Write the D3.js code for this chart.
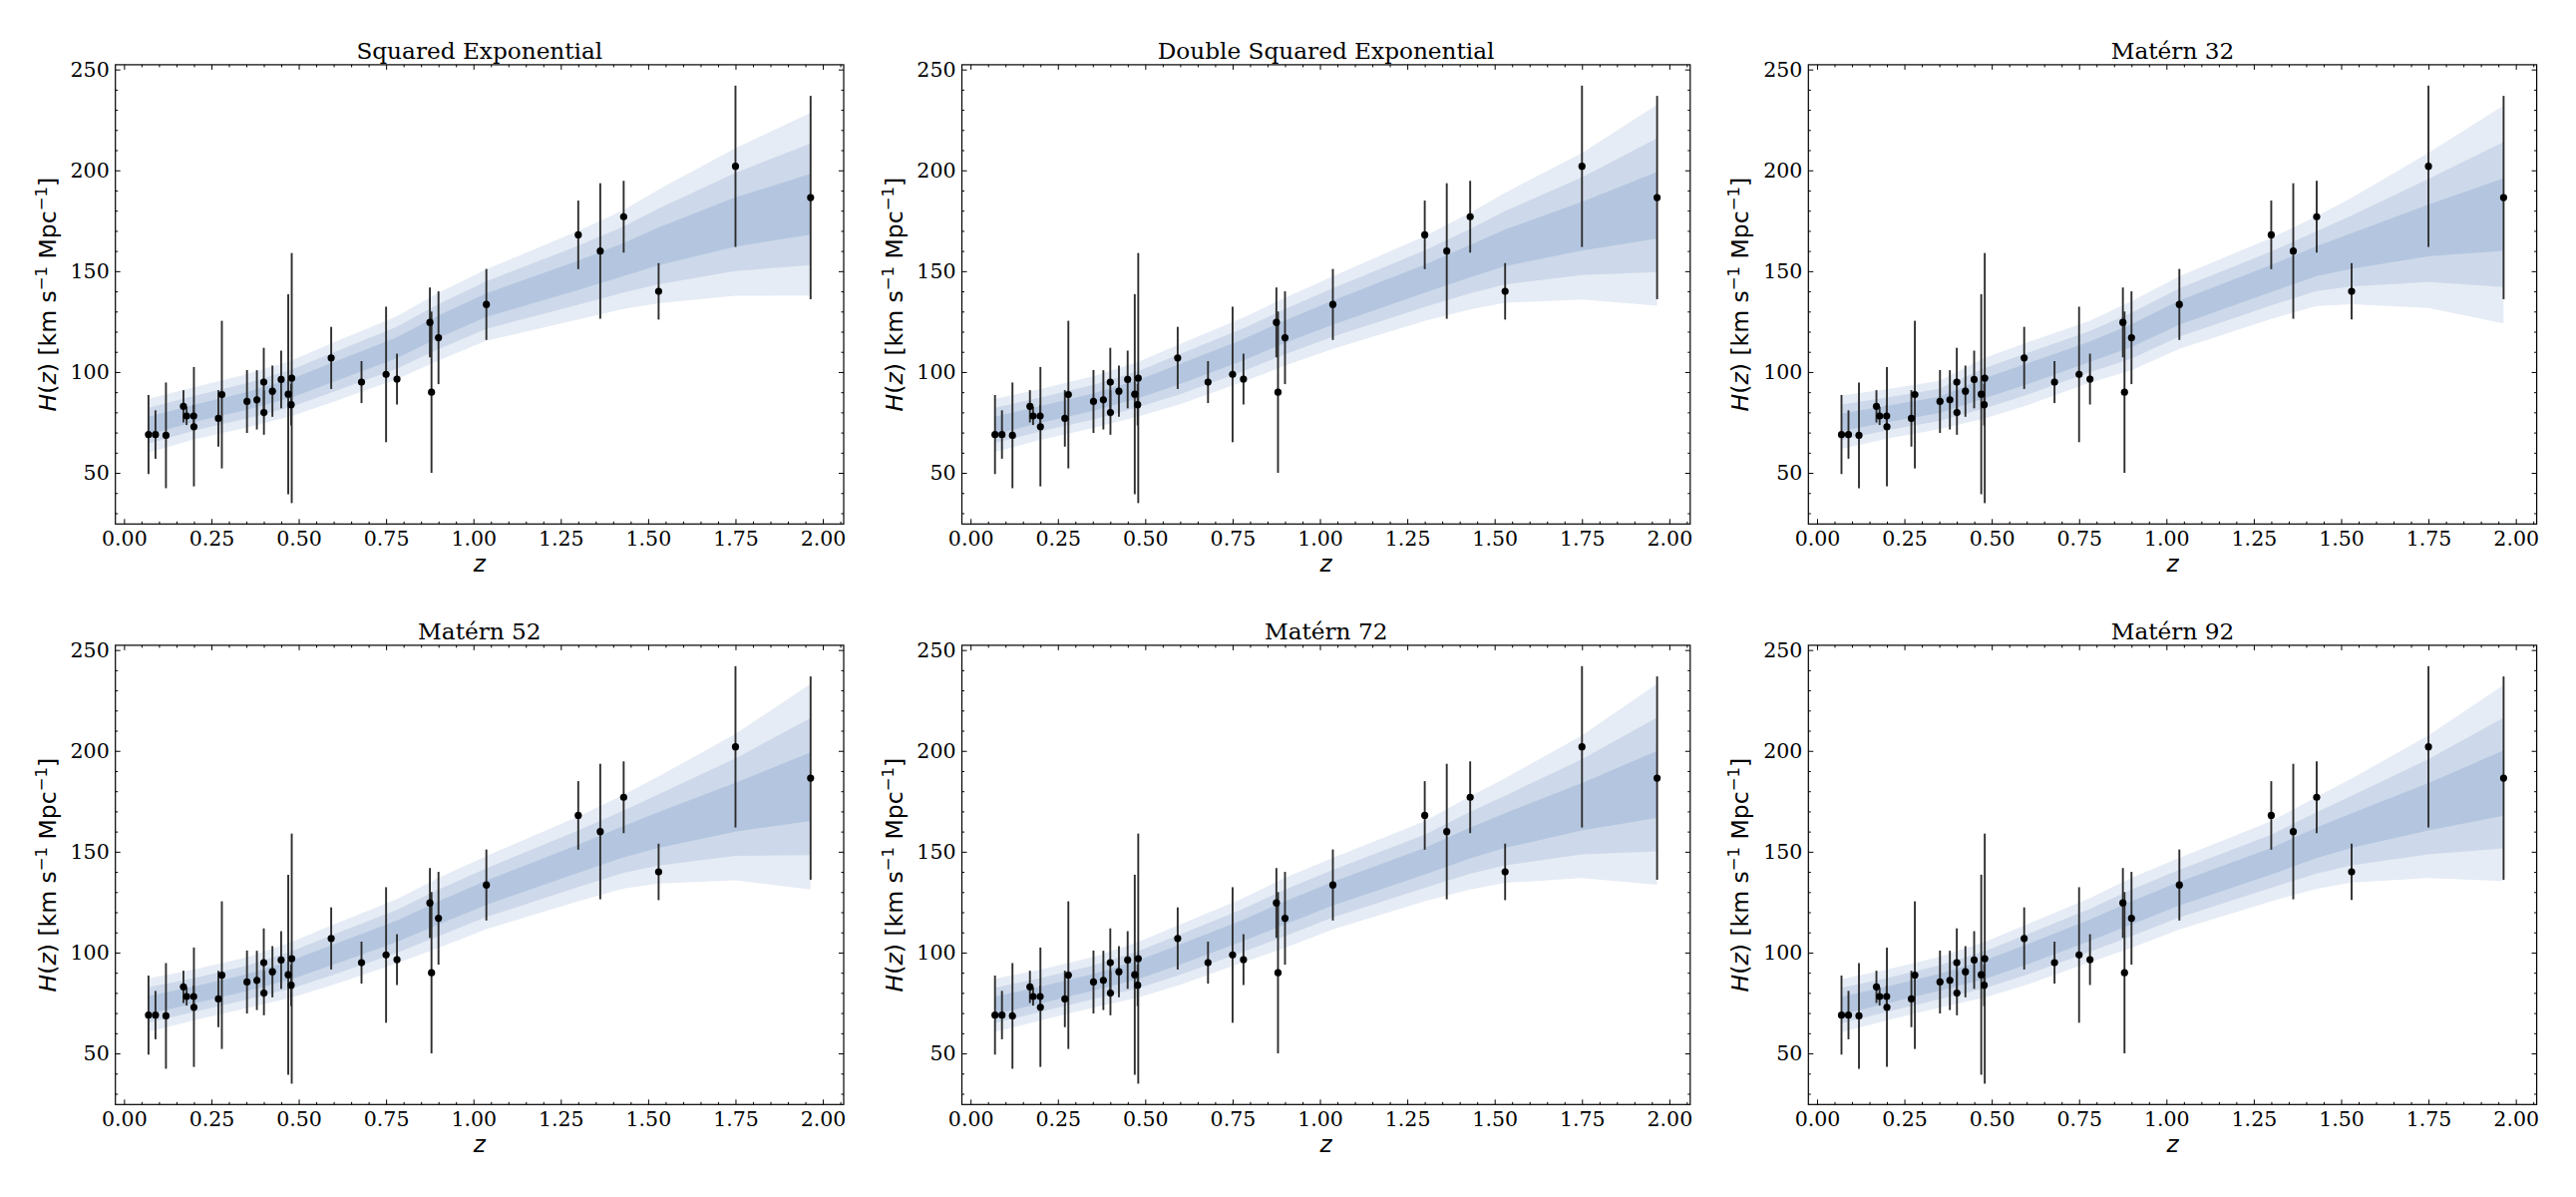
<!DOCTYPE html>
<html><head><meta charset="utf-8">
<script src="https://cdn.jsdelivr.net/npm/d3@7"></script>
<style>body{margin:0;background:#fff}</style>
</head><body>
<svg id="fig" width="2583" height="1200" xmlns="http://www.w3.org/2000/svg"></svg>
<script>
// ---- observational data (cosmic chronometers) ----
const zData = [0.07, 0.09, 0.12, 0.17, 0.1791, 0.1993, 0.2, 0.27, 0.28, 0.3519, 0.3802, 0.4, 0.4004, 0.4247, 0.4497, 0.47, 0.4783, 0.48, 0.5929, 0.6797, 0.75, 0.7812, 0.8754, 0.88, 0.9, 1.037, 1.3, 1.363, 1.43, 1.53, 1.75, 1.965];
const hData = [69, 69, 68.6, 83, 78.2, 78.2, 72.9, 77, 88.8, 85.4, 86.2, 95, 79.9, 90.5, 96.3, 89, 83.8, 97, 107, 95, 98.8, 96.5, 124.6, 90, 117, 133.5, 168, 160, 177, 140, 202, 186.5];
const hErr  = [19.6, 12, 26.2, 8, 4.5, 5.5, 29.6, 14, 36.6, 15.6, 14.7, 17, 11, 12.7, 14.3, 49.6, 10.3, 62, 15.4, 10.4, 33.6, 12.6, 17.3, 40, 23, 17.6, 17, 33.6, 17.8, 14, 40, 50.4];

// ---- GP reconstructions: mean and sigma at nodes ----
const bandZ = [0.07, 0.2, 0.35, 0.48, 0.6, 0.78, 0.9, 1.037, 1.3, 1.43, 1.53, 1.75, 1.965];
const meanSE  = [73.4, 79.5, 85.6, 92.0, 100.0, 112.0, 122.5, 133.2, 148.0, 155.8, 162.3, 174.4, 183.2];
const sigSE   = [4.45, 4.3, 4.4, 4.6, 4.9, 5.2, 5.6, 5.9, 7.3, 8.2, 9.4, 12.2, 15.1];
const meanDSE = [73.5, 79.0, 85.0, 91.5, 99.0, 111.0, 120.0, 129.5, 146.3, 155.0, 161.6, 172.3, 182.7];
const sigDSE  = [4.4, 4.2, 4.3, 4.5, 5.0, 5.3, 5.6, 6.0, 7.0, 8.0, 9.1, 12.1, 16.6];
const meanM32 = [75.1, 79.2, 83.7, 92.0, 99.0, 110.0, 118.0, 129.5, 146.4, 155.0, 160.0, 170.2, 178.1];
const sigM32  = [4.4, 4.1, 4.0, 5.0, 5.2, 5.1, 5.7, 6.0, 6.7, 7.4, 8.8, 12.8, 18.0];
const meanM52 = [74.0, 79.0, 85.0, 91.5, 99.0, 110.5, 119.7, 129.7, 146.5, 155.0, 160.8, 172.1, 182.3];
const sigM52  = [4.4, 4.2, 4.2, 4.6, 5.0, 5.3, 5.8, 6.05, 7.0, 7.75, 8.85, 12.1, 17.0];
const meanM72 = [73.8, 79.0, 85.2, 91.5, 99.0, 111.0, 119.7, 129.2, 145.3, 154.4, 160.5, 172.3, 183.4];
const sigM72  = [4.4, 4.2, 4.2, 4.6, 5.0, 5.3, 5.8, 5.9, 6.6, 7.7, 8.65, 11.8, 16.6];
const meanM92 = [73.7, 79.0, 85.3, 91.5, 99.0, 111.0, 119.7, 129.2, 145.3, 154.4, 160.5, 172.3, 184.0];
const sigM92  = [4.4, 4.2, 4.2, 4.6, 5.0, 5.3, 5.8, 5.9, 6.6, 7.6, 8.6, 11.8, 16.2];

const panelTitles = ["Squared Exponential", "Double Squared Exponential", "Matérn 32", "Matérn 52", "Matérn 72", "Matérn 92"];
const xTicks = [0, 0.25, 0.5, 0.75, 1.0, 1.25, 1.5, 1.75, 2.0];
const yTicks = [50, 100, 150, 200, 250];

const panels = [
  {title: panelTitles[0], mean: meanSE,  sig: sigSE},
  {title: panelTitles[1], mean: meanDSE, sig: sigDSE},
  {title: panelTitles[2], mean: meanM32, sig: sigM32},
  {title: panelTitles[3], mean: meanM52, sig: sigM52},
  {title: panelTitles[4], mean: meanM72, sig: sigM72},
  {title: panelTitles[5], mean: meanM92, sig: sigM92}
];

// ---- layout ----
const svg = d3.select("#fig");
svg.append("rect").attr("width", 2583).attr("height", 1200).attr("fill", "#fff");
const W = 730.3, H = 460.4;
const lefts = [115.7, 964.5, 1813.3], tops = [64.9, 646.9];
const bandColors = ["#e6ecf5", "#cdd9ea", "#b4c6df"]; // 3σ, 2σ, 1σ
const serif = "'DejaVu Serif', serif", sans = "'DejaVu Sans', sans-serif";
const xMinor = d3.range(0.05, 2.06, 0.05).map(v => +v.toFixed(2)).filter(v => Math.abs(v / 0.25 - Math.round(v / 0.25)) > 1e-6);
const yMinor = d3.range(30, 251, 10).filter(v => v % 50 !== 0);

panels.forEach((p, i) => {
  const L = lefts[i % 3], T = tops[Math.floor(i / 3)];
  const x = d3.scaleLinear().domain([-0.02475, 2.05975]).range([L, L + W]);
  const y = d3.scaleLinear().domain([24.65, 252.35]).range([T + H, T]);
  const g = svg.append("g");

  // bands
  [3, 2, 1].forEach((k, j) => {
    const area = d3.area()
      .x((d, idx) => x(bandZ[idx]))
      .y0((d, idx) => y(p.mean[idx] - k * p.sig[idx]))
      .y1((d, idx) => y(p.mean[idx] + k * p.sig[idx]));
    g.append("path").datum(bandZ).attr("d", area).attr("fill", bandColors[j]).attr("stroke", "none");
  });

  // error bars
  g.append("g").selectAll("line").data(zData).join("line")
    .attr("x1", (d) => x(d)).attr("x2", (d) => x(d))
    .attr("y1", (d, idx) => y(hData[idx] - hErr[idx]))
    .attr("y2", (d, idx) => y(hData[idx] + hErr[idx]))
    .attr("stroke", "#2e2e2e").attr("stroke-width", 1.9);
  g.append("g").selectAll("circle").data(zData).join("circle")
    .attr("cx", (d) => x(d)).attr("cy", (d, idx) => y(hData[idx]))
    .attr("r", 3.6).attr("fill", "#000");

  // axes (ticks inward on all sides)
  const styleAxis = (sel) => {
    sel.select(".domain").remove();
    sel.selectAll(".tick line").attr("stroke", "#000").attr("stroke-width", 1);
    sel.selectAll("text").attr("fill", "#000").attr("font-family", serif).attr("font-size", 20.5);
  };
  g.append("g").attr("transform", `translate(0,${T + H})`)
    .call(d3.axisBottom(x).tickValues(xTicks).tickFormat(d3.format(".2f")).tickSize(-5).tickPadding(7).tickSizeOuter(0)).call(styleAxis);
  g.append("g").attr("transform", `translate(0,${T + H})`)
    .call(d3.axisBottom(x).tickValues(xMinor).tickFormat("").tickSize(-2.5).tickSizeOuter(0)).call(styleAxis);
  g.append("g").attr("transform", `translate(0,${T})`)
    .call(d3.axisTop(x).tickValues(xTicks).tickFormat("").tickSize(-5).tickSizeOuter(0)).call(styleAxis);
  g.append("g").attr("transform", `translate(0,${T})`)
    .call(d3.axisTop(x).tickValues(xMinor).tickFormat("").tickSize(-2.5).tickSizeOuter(0)).call(styleAxis);
  g.append("g").attr("transform", `translate(${L},0)`)
    .call(d3.axisLeft(y).tickValues(yTicks).tickFormat(d3.format("d")).tickSize(-5).tickPadding(6).tickSizeOuter(0)).call(styleAxis);
  g.append("g").attr("transform", `translate(${L},0)`)
    .call(d3.axisLeft(y).tickValues(yMinor).tickFormat("").tickSize(-2.5).tickSizeOuter(0)).call(styleAxis);
  g.append("g").attr("transform", `translate(${L + W},0)`)
    .call(d3.axisRight(y).tickValues(yTicks).tickFormat("").tickSize(-5).tickSizeOuter(0)).call(styleAxis);
  g.append("g").attr("transform", `translate(${L + W},0)`)
    .call(d3.axisRight(y).tickValues(yMinor).tickFormat("").tickSize(-2.5).tickSizeOuter(0)).call(styleAxis);

  // frame
  g.append("rect").attr("x", L).attr("y", T).attr("width", W).attr("height", H)
    .attr("fill", "none").attr("stroke", "#000").attr("stroke-width", 1.2);

  // title
  g.append("text").attr("x", L + W / 2).attr("y", T - 6).attr("text-anchor", "middle")
    .attr("font-family", serif).attr("font-size", 23.2).attr("fill", "#000").text(p.title);

  // x label
  g.append("text").attr("x", L + W / 2).attr("y", T + H + 48).attr("text-anchor", "middle")
    .attr("font-family", sans).attr("font-style", "italic").attr("font-size", 23).attr("fill", "#000").text("z");

  // y label
  const yl = g.append("text").attr("transform", `translate(${L - 60},${T + H / 2}) rotate(-90)`)
    .attr("text-anchor", "middle").attr("font-family", sans).attr("font-size", 23.5).attr("fill", "#000");
  yl.append("tspan").attr("font-style", "italic").text("H");
  yl.append("tspan").text("(");
  yl.append("tspan").attr("font-style", "italic").text("z");
  yl.append("tspan").text(") [km s");
  yl.append("tspan").attr("dy", -9).attr("font-size", 16.5).text("−1");
  yl.append("tspan").attr("dy", 9).text(" Mpc");
  yl.append("tspan").attr("dy", -9).attr("font-size", 16.5).text("−1");
  yl.append("tspan").attr("dy", 9).text("]");
});
</script>
</body></html>
